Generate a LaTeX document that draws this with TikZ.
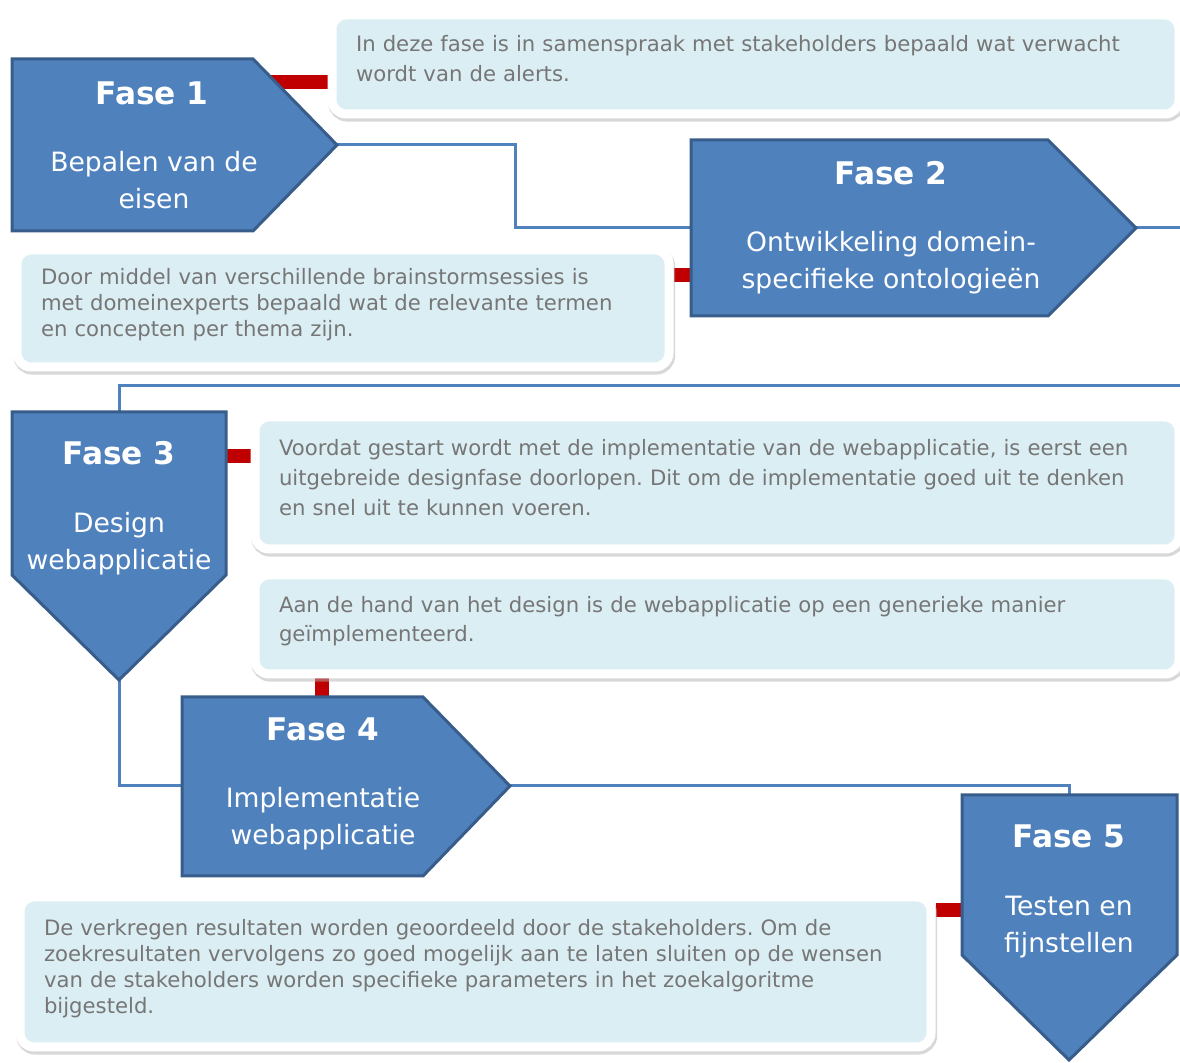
\documentclass[tikz,border=0pt]{standalone}
\usepackage{fontspec}
\setmainfont{DejaVu Sans}
\usetikzlibrary{shadows, backgrounds}
\definecolor{faseblue}{RGB}{79,129,189}
\definecolor{faseline}{RGB}{56,93,138}
\definecolor{notefill}{RGB}{219,238,244}
\definecolor{notetext}{RGB}{118,118,118}
\definecolor{linkred}{RGB}{192,0,0}
\frenchspacing

\begin{document}
\begin{tikzpicture}[x=0.5pt, y=-0.5pt,
    fase/.style={fill=faseblue, draw=faseline, line width=1.5pt},
    fasetitle/.style={text=white, font=\fontsize{15.6}{18}\selectfont\bfseries, inner sep=0, anchor=base},
    fasetext/.style={text=white, font=\fontsize{13.3}{18.5}\selectfont, align=center, inner sep=0},
    note/.style={rounded corners=7pt, fill=notefill, draw=white, line width=4.5pt,
      drop shadow={shadow xshift=0.6pt, shadow yshift=-1.3pt, fill=black!30, draw=black!30, line width=5pt, opacity=0.5},
      text=notetext, align=left, inner xsep=12pt, inner ysep=0pt, anchor=north west,
      execute at end node={\rule[-6pt]{0pt}{6pt}}},
    flow/.style={draw=faseblue, line width=1.5pt},
    redlink/.style={draw=linkred, line width=7pt}]

  \useasboundingbox (0,0) rectangle (1180,1063);

  % Fase 1
  \draw[fase] (12,59) -- (253,59) -- (337,145) coordinate (f1tip) -- (253,231) -- (12,231) -- cycle;
  \node[fasetitle] (f1title) at (152,105) {Fase 1};
  \node[fasetext] (f1text) at (154,180) {Bepalen van de\\eisen};
  \coordinate (r1) at (262,82);

  % Fase 2
  \draw[fase] (691,140) -- (1048,140) -- (1136,228) coordinate (f2tip) -- (1048,316) -- (691,316) -- cycle;
  \coordinate (f2w) at (691,228);
  \node[fasetitle] (f2title) at (891,185) {Fase 2};
  \node[fasetext] (f2text) at (891,263) {Ontwikkeling domein-\\specifieke ontologieën};
  \coordinate (r2) at (700,275);

  % Fase 3
  \draw[fase] (12,412) -- (226,412) -- (226,575) -- (119,680) coordinate (f3tip) -- (12,575) -- cycle;
  \coordinate (f3n) at (119,412);
  \node[fasetitle] (f3title) at (119,465) {Fase 3};
  \node[fasetext] (f3text) at (119,544) {Design\\webapplicatie};
  \coordinate (r3) at (220,456);

  % Fase 4
  \draw[fase] (182,697) -- (423,697) -- (510,786) coordinate (f4tip) -- (423,876) -- (182,876) -- cycle;
  \coordinate (f4w) at (182,786);
  \node[fasetitle] (f4title) at (323,741) {Fase 4};
  \node[fasetext] (f4text) at (323,819) {Implementatie\\webapplicatie};
  \coordinate (r4) at (322,705);

  % Fase 5
  \draw[fase] (962,795) -- (1177,795) -- (1177,955) -- (1069,1060) -- (962,955) -- cycle;
  \coordinate (f5n) at (1069,795);
  \node[fasetitle] (f5title) at (1069,848) {Fase 5};
  \node[fasetext] (f5text) at (1069,927) {Testen en\\fijnstellen};
  \coordinate (r5) at (970,910);

  % Toelichtingen
  \node[note, minimum width=423.5pt, minimum height=49.5pt, text width=399.5pt, font=\fontsize{10.6}{15}\selectfont] (desc1) at (327.5,10.5) {
    In deze fase is in samenspraak met stakeholders bepaald wat verwacht\\wordt van de alerts.};
  \node[note, minimum width=326pt, minimum height=58.5pt, text width=302pt, font=\fontsize{10.6}{13}\selectfont] (desc2) at (12.5,245.5) {
    Door middel van verschillende brainstormsessies is\\met domeinexperts bepaald wat de relevante termen\\en concepten per thema zijn.};
  \node[note, minimum width=462pt, minimum height=66pt, text width=438pt, font=\fontsize{10.6}{15}\selectfont] (desc3) at (250.5,412.5) {
    Voordat gestart wordt met de implementatie van de webapplicatie, is eerst een\\uitgebreide designfase doorlopen. Dit om de implementatie goed uit te denken\\en snel uit te kunnen voeren.};
  \node[note, minimum width=462pt, minimum height=49.5pt, text width=438pt, font=\fontsize{10.6}{14.5}\selectfont] (desc4) at (250.5,570.5) {
    Aan de hand van het design is de webapplicatie op een generieke manier\\geïmplementeerd.};
  \node[note, minimum width=455.5pt, minimum height=75pt, text width=431.5pt, font=\fontsize{10.6}{13}\selectfont] (desc5) at (15.5,892.5) {
    De verkregen resultaten worden geoordeeld door de stakeholders. Om de\\zoekresultaten vervolgens zo goed mogelijk aan te laten sluiten op de wensen\\van de stakeholders worden specifieke parameters in het zoekalgoritme\\bijgesteld.};

  % Verbindingen
  \begin{scope}[on background layer]
    \draw[flow] (f1tip) -- ++(178,0) |- (f2w);
    \draw[flow] (f2tip) -- ++(64,0) -- ++(0,158) -| (f3n);
    \draw[flow] (f3tip) |- (f4w);
    \draw[flow] (f4tip) -| (f5n);

    \draw[redlink] (r1) -- (r1 -| desc1.west);
    \draw[redlink] (r2) -- (r2 -| desc2.east);
    \draw[redlink] (r3) -- (r3 -| desc3.west);
    \draw[redlink] (r4) -- (r4 |- desc4.south);
    \draw[redlink] (r5) -- (r5 -| desc5.east);
  \end{scope}
\end{tikzpicture}
\end{document}
